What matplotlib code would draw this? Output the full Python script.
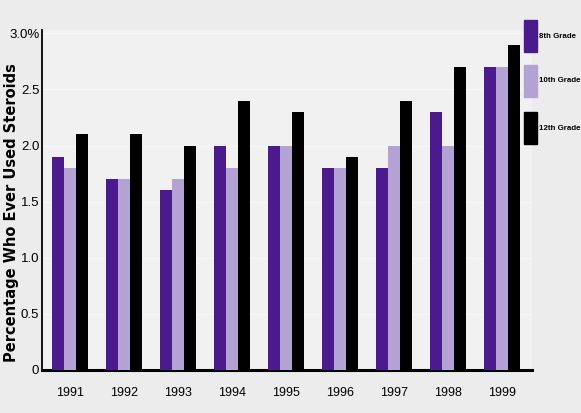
import matplotlib
matplotlib.use("Agg")
import matplotlib.pyplot as plt
import numpy as np
from matplotlib.patches import Rectangle

years = ["1991", "1992", "1993", "1994", "1995", "1996", "1997", "1998", "1999"]
grade8 = [1.9, 1.7, 1.6, 2.0, 2.0, 1.8, 1.8, 2.3, 2.7]
grade10 = [1.8, 1.7, 1.7, 1.8, 2.0, 1.8, 2.0, 2.0, 2.7]
grade12 = [2.1, 2.1, 2.0, 2.4, 2.3, 1.9, 2.4, 2.7, 2.9]
series_names = ["8th Grade", "10th Grade", "12th Grade"]
ytick_vals = [0, 0.5, 1.0, 1.5, 2.0, 2.5, 3.0]
ytick_labels = ["0", "0.5", "1.0", "1.5", "2.0", "2.5", "3.0%"]

colors = ["#4b1b8e", "#b3a2d3", "#000000"]
W, H = 581, 413

fig = plt.figure(figsize=(5.81, 4.13), dpi=100)
fig.patch.set_facecolor("#ececec")
ax = fig.add_axes([42 / W, 1 - 370 / H, (532 - 42) / W, (370 - 30) / H])
ax.set_facecolor("#f1f1f1")

x = np.arange(len(years))
w = 0.22
for i, (vals, c) in enumerate(zip([grade8, grade10, grade12], colors)):
    ax.bar(x + (i - 1) * w, vals, w, color=c, label=series_names[i], zorder=3)

ax.set_xlim(-0.52, 8.56)
ax.set_ylim(0, 3.03)
ax.set_xticks(x)
ax.set_xticklabels(years, family="Liberation Sans", fontsize=9)
ax.set_yticks(ytick_vals)
ax.set_yticklabels(ytick_labels, family="Liberation Sans", fontsize=9.5)
ax.tick_params(axis="y", length=0, pad=2)
ax.tick_params(axis="x", length=0, pad=12)
for s in ["top", "right"]:
    ax.spines[s].set_visible(False)
ax.spines["left"].set_linewidth(1.3)
ax.spines["bottom"].set_linewidth(2.2)
for v in ytick_vals[1:]:
    ax.axhline(v, color="#f7f7f7", lw=0.8, zorder=1)

fig.text(12 / W, 1 - 213 / H, "Percentage Who Ever Used Steroids", rotation=90,
         ha="center", va="center", fontsize=10.5, fontweight="bold",
         family="DejaVu Sans")

# legend drawn at the right edge
box_tops = [20, 65, 112]
for name, c, top in zip(series_names, colors, box_tops):
    fig.add_artist(Rectangle((524 / W, 1 - (top + 32) / H), 13 / W, 32 / H,
                             transform=fig.transFigure, color=c))
    fig.text(539 / W, 1 - (top + 16) / H, name, ha="left", va="center",
             family="Liberation Sans", fontweight="bold", fontsize=5.7)

fig.savefig("out.png", dpi=100, facecolor=fig.get_facecolor())
